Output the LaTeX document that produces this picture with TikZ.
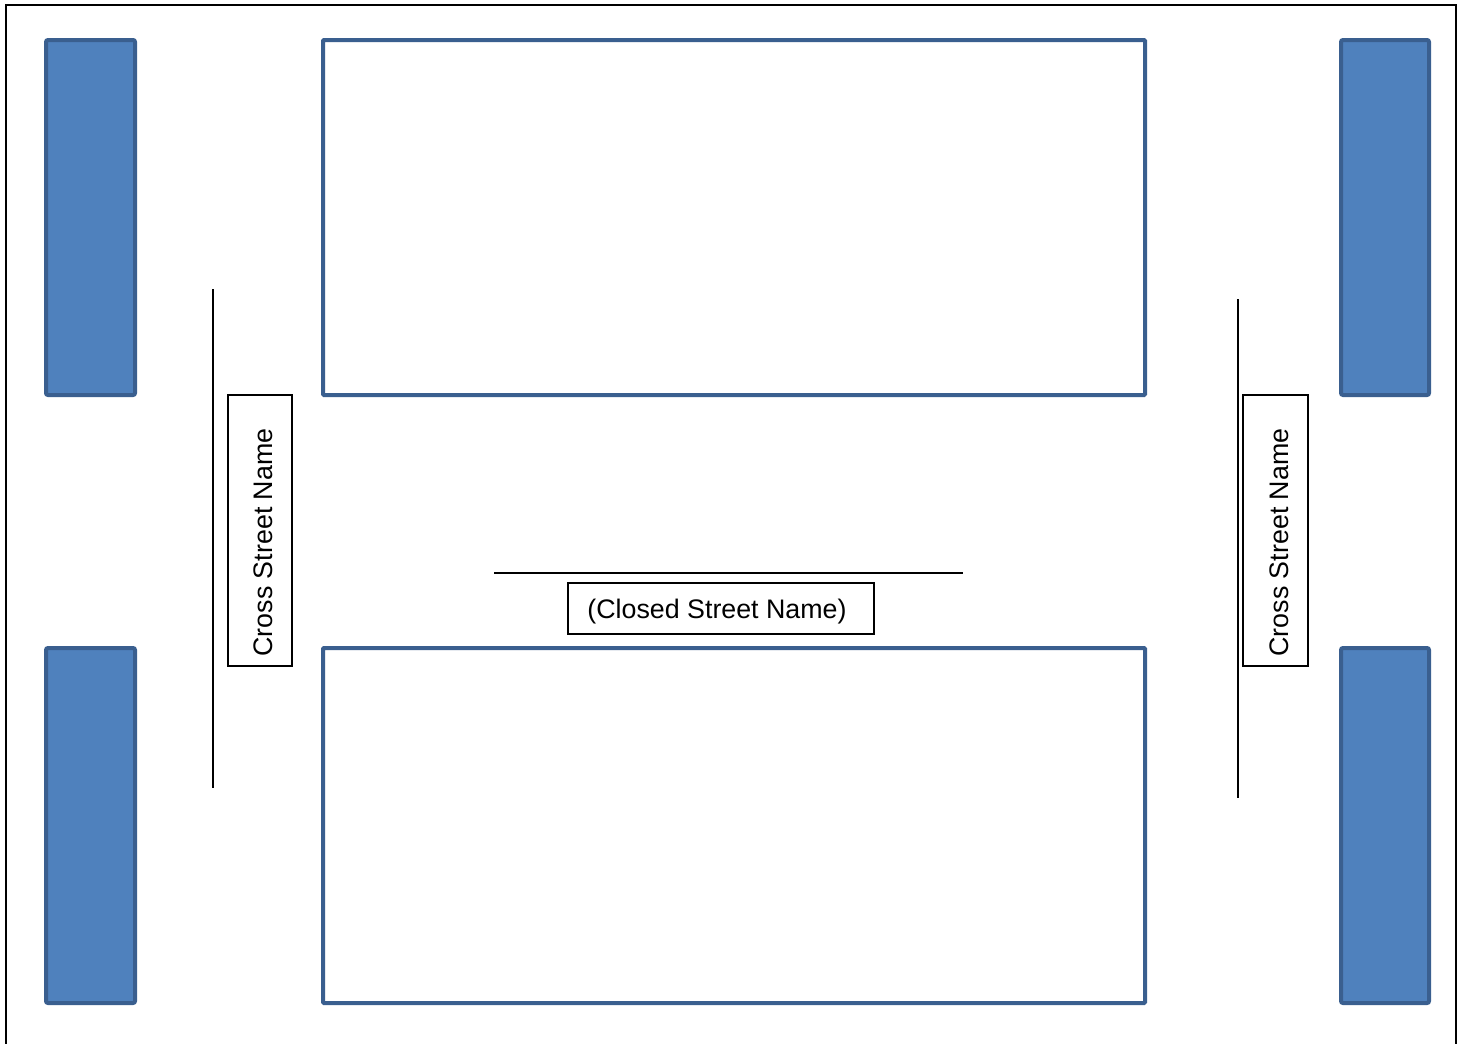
\documentclass[tikz,border=0pt]{standalone}
\usepackage{fontspec}
\setmainfont{Liberation Sans}
\definecolor{blockfill}{HTML}{4F81BD}
\definecolor{blockedge}{HTML}{3A5F8F}
\begin{document}
\begin{tikzpicture}[x=1pt,y=-1pt,
  block/.style={draw=blockedge,fill=blockfill,line width=4pt,rounded corners=2pt},
  lot/.style={draw=blockedge,fill=white,line width=4pt,rounded corners=1pt},
  label/.style={draw=black,line width=1.5pt,fill=white,inner sep=0pt},
  labeltext/.style={font=\fontsize{26.8}{30}\selectfont,inner sep=0pt},
  street/.style={draw=black,line width=1.5pt}]
\useasboundingbox (0,0) rectangle (1462,1044);
\draw[line width=2.5pt] (6,1050) -- (6,5) -- (1456,5) -- (1456,1050);
% blocks
\draw[block] (46,40) rectangle (135,395);
\draw[block] (46,648) rectangle (135,1003);
\draw[block] (1341,40) rectangle (1429,395);
\draw[block] (1341,648) rectangle (1429,1003);
% lots
\draw[lot] (323,40) rectangle (1145,395);
\draw[lot] (323,648) rectangle (1145,1003);
% streets
\coordinate (l1) at (213,289); \coordinate (l2) at (213,788);
\coordinate (r1) at (1238,299); \coordinate (r2) at (1238,798);
\coordinate (h1) at (494,573); \coordinate (h2) at (963,573);
\draw[street] (l1) -- (l2);
\draw[street] (r1) -- (r2);
\draw[street] (h1) -- (h2);
% labels
\node[label,minimum width=64pt,minimum height=271pt] (cl) at (260,530.5) {};
\node[rotate=90,labeltext] (clt) at ([xshift=3pt,yshift=-12pt]cl.center) {Cross Street Name};
\node[label,minimum width=65pt,minimum height=271pt] (cr) at (1275.5,530.5) {};
\node[rotate=90,labeltext] (crt) at ([xshift=4pt,yshift=-12pt]cr.center) {Cross Street Name};
\node[label,minimum width=306pt,minimum height=51pt] (cs) at (721,608.5) {};
\node[labeltext] (cst) at ([xshift=-4pt,yshift=-3pt]cs.center) {(Closed Street Name)};
\end{tikzpicture}
\end{document}
